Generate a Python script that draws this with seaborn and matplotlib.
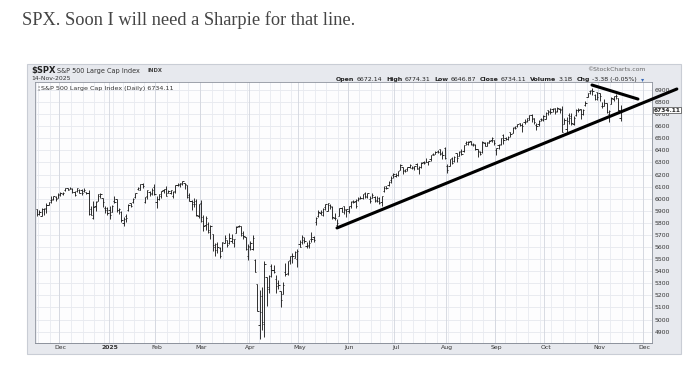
import numpy as np
import pandas as pd
import matplotlib
matplotlib.use("Agg")
import matplotlib.pyplot as plt
import matplotlib.transforms as mtransforms
from matplotlib.patches import Rectangle
import seaborn as sns

# ---------------- data (SPX daily OHLC, 15-Nov-2024 .. 14-Nov-2025) ----------------
open_px = [
    5912, 5874, 5860, 5917, 5927, 5948, 5992, 6000, 6015, 6003,
    6041, 6042, 6069, 6089, 6081, 6084, 6057, 6061, 6075, 6068, 6063, 6053, 6047, 5913, 5842, 5940, 5985, 6024, 6007, 5921, 5920,
    5903, 5892, 5982, 5994, 5910, 5891, 5800, 5859, 5905, 5963, 5970, 6015, 6081, 6076, 6121, 5970, 6026, 6058, 6050, 6096,
    5970, 5998, 6021, 6072, 6083, 6046, 6049, 6026, 6061, 6115, 6122, 6118, 6134, 6114, 6027, 5982, 5971, 5981, 5857,
    5968, 5812, 5782, 5787, 5726, 5706, 5604, 5624, 5594, 5564, 5635, 5654, 5633, 5646, 5631, 5718, 5775, 5771, 5696, 5679, 5527,
    5597, 5581, 5492, 5292, 4953, 5194, 4966, 5353, 5256, 5441, 5412, 5336, 5306, 5232, 5207, 5395, 5381, 5490, 5529, 5508, 5499,
    5626, 5645, 5655, 5605, 5619, 5663, 5679, 5807, 5854, 5885, 5869, 5929, 5902, 5944, 5928, 5842, 5781, 5855, 5925, 5939, 5903,
    5897, 5939, 5978, 5985, 5988, 6005, 6009, 6050, 6010, 5998, 6004, 6013, 5986, 6004, 5970, 6061, 6104, 6112, 6151, 6193,
    6187, 6193, 6239, 6259, 6238, 6245, 6262, 6256, 6255, 6286, 6253, 6264, 6307, 6307, 6307, 6326, 6369, 6370, 6397, 6409, 6377, 6417,
    6271, 6272, 6337, 6309, 6375, 6352, 6391, 6398, 6465, 6453, 6478, 6445, 6447, 6409, 6384, 6387, 6457, 6438, 6458, 6486, 6489,
    6401, 6445, 6451, 6529, 6505, 6497, 6555, 6541, 6590, 6601, 6627, 6612, 6636, 6641, 6654, 6694, 6669, 6613, 6618, 6661, 6649,
    6660, 6732, 6722, 6740, 6750, 6730, 6746, 6740, 6622, 6577, 6690, 6687, 6618, 6690, 6736, 6740, 6700, 6776, 6843, 6890, 6898, 6858, 6880,
    6871, 6767, 6764, 6789, 6699, 6788, 6822, 6853, 6833, 6672,
]
high_px = [
    5915, 5909, 5920, 5921, 5965, 5973, 6020, 6026, 6020, 6044,
    6053, 6053, 6089, 6092, 6100, 6089, 6065, 6092, 6080, 6079, 6085, 6058, 6070, 5936, 5982, 5978, 6040, 6049, 6007, 5941, 5929,
    5936, 5949, 6022, 6000, 5927, 5897, 5845, 5871, 5960, 5964, 6009, 6051, 6100, 6118, 6128, 6018, 6069, 6063, 6086, 6121,
    6022, 6042, 6062, 6084, 6101, 6074, 6076, 6064, 6116, 6127, 6129, 6147, 6134, 6115, 6044, 5993, 6009, 5994, 5959,
    5987, 5865, 5860, 5810, 5783, 5706, 5636, 5642, 5598, 5645, 5703, 5654, 5716, 5711, 5670, 5775, 5786, 5777, 5732, 5685, 5627,
    5651, 5696, 5500, 5292, 5247, 5268, 5481, 5353, 5370, 5460, 5450, 5367, 5328, 5233, 5309, 5469, 5487, 5528, 5553, 5565, 5581,
    5658, 5700, 5684, 5640, 5655, 5721, 5692, 5845, 5906, 5906, 5925, 5959, 5968, 5953, 5939, 5878, 5829, 5922, 5930, 5943, 5916,
    5936, 5981, 5991, 5999, 6016, 6021, 6043, 6059, 6046, 6026, 6050, 6024, 6019, 6018, 6026, 6101, 6108, 6146, 6187, 6215,
    6210, 6227, 6285, 6263, 6242, 6266, 6290, 6272, 6272, 6292, 6268, 6301, 6315, 6336, 6316, 6360, 6381, 6395, 6401, 6410, 6392, 6427,
    6288, 6330, 6344, 6350, 6379, 6395, 6410, 6446, 6481, 6474, 6481, 6457, 6456, 6410, 6394, 6478, 6466, 6466, 6486, 6508, 6490,
    6416, 6450, 6502, 6533, 6511, 6515, 6555, 6592, 6601, 6616, 6627, 6624, 6657, 6672, 6695, 6697, 6670, 6626, 6649, 6672, 6689,
    6718, 6733, 6750, 6754, 6753, 6755, 6747, 6764, 6666, 6679, 6709, 6710, 6688, 6744, 6752, 6741, 6746, 6807, 6877, 6900, 6920, 6869, 6881,
    6874, 6803, 6827, 6796, 6731, 6841, 6849, 6869, 6833, 6774,
]
low_px = [
    5853, 5866, 5854, 5865, 5883, 5944, 5963, 5993, 5984, 6003,
    6023, 6034, 6062, 6073, 6079, 6048, 6024, 6058, 6051, 6033, 6059, 6035, 5867, 5866, 5832, 5902, 5983, 6007, 5932, 5880, 5869,
    5829, 5888, 5961, 5890, 5874, 5809, 5774, 5805, 5899, 5930, 5961, 6006, 6076, 6074, 6088, 5962, 5995, 6020, 6027, 6030,
    5923, 5991, 6007, 6050, 6020, 6044, 6042, 6004, 6051, 6107, 6100, 6111, 6084, 6009, 5977, 5909, 5932, 5858, 5837,
    5810, 5733, 5743, 5712, 5667, 5565, 5529, 5547, 5505, 5563, 5633, 5597, 5622, 5633, 5603, 5718, 5765, 5695, 5670, 5572, 5489,
    5574, 5576, 5390, 5069, 4835, 4910, 4857, 5115, 5221, 5348, 5387, 5220, 5255, 5101, 5207, 5357, 5371, 5456, 5468, 5505, 5433,
    5597, 5628, 5637, 5589, 5590, 5644, 5644, 5782, 5845, 5868, 5859, 5907, 5895, 5913, 5830, 5825, 5767, 5855, 5886, 5875, 5849,
    5878, 5921, 5966, 5922, 5978, 5994, 6000, 6003, 6004, 5964, 6004, 5974, 5971, 5953, 5943, 6054, 6080, 6107, 6132, 6174,
    6177, 6188, 6238, 6201, 6217, 6233, 6250, 6249, 6237, 6242, 6201, 6255, 6286, 6303, 6281, 6311, 6360, 6368, 6376, 6360, 6332, 6329,
    6212, 6272, 6286, 6300, 6302, 6350, 6363, 6385, 6447, 6441, 6445, 6437, 6400, 6343, 6361, 6375, 6438, 6436, 6457, 6466, 6445,
    6360, 6414, 6444, 6454, 6483, 6485, 6514, 6541, 6577, 6596, 6600, 6551, 6615, 6633, 6652, 6639, 6619, 6570, 6604, 6642, 6643,
    6656, 6690, 6705, 6717, 6701, 6717, 6712, 6551, 6617, 6551, 6621, 6607, 6611, 6688, 6715, 6658, 6690, 6770, 6840, 6870, 6856, 6815, 6818,
    6809, 6754, 6764, 6711, 6631, 6788, 6811, 6829, 6726, 6647,
]
close_px = [
    5870, 5893, 5917, 5917, 5949, 5969, 5987, 6021, 5999, 6032,
    6047, 6050, 6087, 6075, 6090, 6053, 6034, 6085, 6051, 6051, 6074, 6050, 5872, 5867, 5931, 5974, 6040, 6037, 5971, 5907, 5882,
    5869, 5942, 5975, 5909, 5918, 5827, 5836, 5843, 5950, 5937, 5997, 6049, 6086, 6119, 6101, 6012, 6068, 6039, 6071, 6041,
    5994, 6038, 6061, 6084, 6026, 6066, 6069, 6052, 6115, 6115, 6129, 6144, 6118, 6013, 5983, 5955, 5956, 5861, 5955,
    5850, 5778, 5843, 5739, 5770, 5615, 5572, 5599, 5522, 5639, 5675, 5615, 5675, 5663, 5668, 5768, 5777, 5712, 5693, 5581, 5612,
    5633, 5671, 5397, 5074, 5062, 4982, 5457, 5268, 5363, 5406, 5396, 5276, 5283, 5158, 5288, 5376, 5485, 5525, 5529, 5561, 5569,
    5604, 5687, 5650, 5607, 5631, 5664, 5660, 5844, 5886, 5892, 5917, 5958, 5964, 5941, 5845, 5842, 5802, 5922, 5889, 5912, 5912,
    5936, 5970, 5971, 5939, 6000, 6006, 6038, 6022, 6045, 5977, 6033, 5983, 5981, 5967, 6025, 6092, 6092, 6141, 6173, 6205,
    6198, 6227, 6279, 6230, 6226, 6263, 6280, 6260, 6269, 6244, 6264, 6297, 6297, 6305, 6309, 6359, 6363, 6389, 6390, 6371, 6362, 6339,
    6238, 6330, 6299, 6345, 6340, 6389, 6374, 6446, 6466, 6469, 6450, 6449, 6412, 6396, 6370, 6467, 6439, 6466, 6481, 6502, 6460,
    6416, 6448, 6502, 6482, 6495, 6512, 6532, 6587, 6584, 6615, 6607, 6600, 6632, 6664, 6693, 6657, 6638, 6605, 6644, 6661, 6688,
    6711, 6715, 6716, 6740, 6714, 6753, 6736, 6553, 6654, 6644, 6671, 6630, 6664, 6735, 6736, 6699, 6738, 6792, 6875, 6891, 6891, 6822, 6840,
    6852, 6771, 6796, 6720, 6729, 6832, 6846, 6851, 6737, 6734,
]
market_holidays = ["2024-11-28", "2024-12-25", "2025-01-01", "2025-01-09", "2025-01-20",
                   "2025-02-17", "2025-04-18", "2025-05-26", "2025-06-19", "2025-07-04",
                   "2025-09-01", "2025-11-27", "2025-12-25"]
price_ticks = list(range(4900, 7000, 100))
month_names = ["Dec", "2025", "Feb", "Mar", "Apr", "May", "Jun", "Jul", "Aug", "Sep", "Oct", "Nov", "Dec"]
# hand-drawn trend lines (trading-day index, price)
trend_long_x = [128, 273]
trend_long_y = [5758, 6908]
trend_short_x = [236.8, 256.4]
trend_short_y = [6941, 6825]
caption = "SPX. Soon I will need a Sharpie for that line."

# ---------------- trading calendar ----------------
all_days = pd.bdate_range("2024-11-15", "2025-12-31")
all_days = all_days[~all_days.isin(pd.to_datetime(market_holidays))]
n = len(close_px)
for arr in (open_px, high_px, low_px):
    assert len(arr) == n, (len(arr), n)
dates = all_days[:n]
assert str(dates[-1].date()) == "2025-11-14", dates[-1]
idx = np.arange(n)
df = pd.DataFrame({"i": idx, "date": dates, "open": open_px, "high": high_px,
                   "low": low_px, "close": close_px})

ext = pd.DataFrame({"date": all_days})
ext["i"] = np.arange(len(ext))
ext["ym"] = ext["date"].dt.to_period("M")
ext["wk"] = ext["date"].dt.to_period("W")
month_first = ext.groupby("ym")["i"].min().values[1:]   # Dec-2024 onward
week_first = ext.groupby("wk")["i"].min().values
XMAX = 262.4
month_first = [m for m in month_first if m <= XMAX]
week_first = [w for w in week_first if w <= XMAX]

# ---------------- figure ----------------
sns.set_style("white")
plt.rcParams["font.family"] = ["DejaVu Sans"]
W, H = 695, 369
fig = plt.figure(figsize=(W / 100, H / 100), dpi=100)
fig.patch.set_facecolor("white")

def fx(px):
    return px / W

def fy(py):
    return 1 - py / H

# outer chart frame
fig.patches.append(Rectangle((fx(27), fy(354)), fx(681) - fx(27), (354 - 64) / H,
                             transform=fig.transFigure, facecolor="#e7e9ee",
                             edgecolor="#c9cdd5", lw=0.8, zorder=-5))

ax = fig.add_axes([fx(34.7), fy(342.7), fx(652) - fx(34.7), (342.7 - 82) / H])
ax.set_zorder(2)
ax.set_facecolor("#fdfdfe")
ax.set_xlim(-1.0, XMAX)
ax.set_ylim(4808, 6966)

# grid
for p in price_ticks:
    ax.axhline(p, color="#e6e8ee", lw=0.6, zorder=0)
for w in week_first:
    ax.axvline(w - 0.5, color="#e8eaf0", lw=0.6, zorder=0)
for m in month_first:
    ax.axvline(m - 0.5, color="#d3d6de", lw=0.6, zorder=0)

# OHLC bars
bar_color = "#151515"
ax.vlines(df["i"], df["low"], df["high"], color=bar_color, lw=0.62, zorder=3)
ax.hlines(df["open"], df["i"] - 0.55, df["i"], color=bar_color, lw=0.62, zorder=3)
ax.hlines(df["close"], df["i"], df["i"] + 0.55, color=bar_color, lw=0.62, zorder=3)

# hand-drawn trend lines
sns.lineplot(x=trend_long_x, y=trend_long_y, ax=ax, color="black", lw=2.2,
             clip_on=False, solid_capstyle="round", zorder=5, estimator=None, sort=False)
sns.lineplot(x=trend_short_x, y=trend_short_y, ax=ax, color="black", lw=2.2,
             clip_on=False, solid_capstyle="round", zorder=5, estimator=None, sort=False)

# axes / ticks
for s in ["top", "left", "right"]:
    ax.spines[s].set_color("#8d929c")
    ax.spines[s].set_linewidth(0.6)
ax.spines["bottom"].set_color("#8d929c")
ax.spines["bottom"].set_linewidth(0.7)
ax.spines["bottom"].set_linestyle((0, (1, 1)))
ax.yaxis.tick_right()
ax.set_yticks(price_ticks)
ax.set_yticklabels([str(p) for p in price_ticks])
ax.tick_params(axis="y", length=0, pad=2.2, labelsize=4.4, labelcolor="#333333")
ax.set_xticks(month_first)
ax.set_xticklabels(month_names[:len(month_first)])
ax.tick_params(axis="x", length=0, pad=2.0, labelsize=4.4, labelcolor="#333333")
for lab in ax.get_xticklabels():
    if lab.get_text() == "2025":
        lab.set_fontweight("bold")
ax.set_xlabel("")
ax.set_ylabel("")
ax.grid(False)

# last-price marker
trans = mtransforms.blended_transform_factory(ax.transAxes, ax.transData)
ax.text(1.002, close_px[-1], f"{6734.11:.2f}", transform=trans, ha="left", va="center",
        fontsize=4.2, fontweight="bold", color="#222222", zorder=6, clip_on=False,
        bbox=dict(boxstyle="square,pad=0.12", fc="white", ec="#444444", lw=0.5))

# header texts
fig.text(fx(31), fy(70), "$SPX", fontsize=6.0, fontweight="bold", color="#222222", va="center")
fig.text(fx(57), fy(70.5), "S&P 500 Large Cap Index", fontsize=4.7, color="#333333", va="center")
fig.text(fx(148), fy(71), "INDX", fontsize=3.8, fontweight="bold", color="#444444", va="center")
fig.text(fx(31), fy(79), "14-Nov-2025", fontsize=4.4, color="#333333", va="center")
fig.text(fx(646), fy(69.5), "\u00a9StockCharts.com", fontsize=4.4, color="#666666", va="center", ha="right")
fig.text(fx(37), fy(88.5), "\u00a6", fontsize=4.4, color="#444444", va="center")
fig.text(fx(41), fy(88.5), "S&P 500 Large Cap Index (Daily) 6734.11", fontsize=4.6,
         color="#333333", va="center")

parts = [("Open", True), ("6672.14", False), ("High", True), ("6774.31", False),
         ("Low", True), ("6646.87", False), ("Close", True), ("6734.11", False),
         ("Volume", True), ("3.1B", False), ("Chg", True), ("-3.38 (-0.05%)", False)]
renderer = fig.canvas.get_renderer()
x = 336.0
for k, (txt, bold) in enumerate(parts):
    t = fig.text(fx(x), fy(79.5), txt, fontsize=4.5, fontweight="bold" if bold else "normal",
                 color="#222222", va="center")
    bb = t.get_window_extent(renderer)
    x += bb.width + (2.2 if bold else 3.8)
fig.text(fx(x), fy(79.5), "\u25be", fontsize=4.5, color="#3a6ab8", va="center")

# caption
fig.text(fx(22), fy(20), caption, fontsize=13.2, family=["Liberation Serif", "DejaVu Serif"],
         color="#444444", va="center")

fig.savefig("out.png", dpi=100)
